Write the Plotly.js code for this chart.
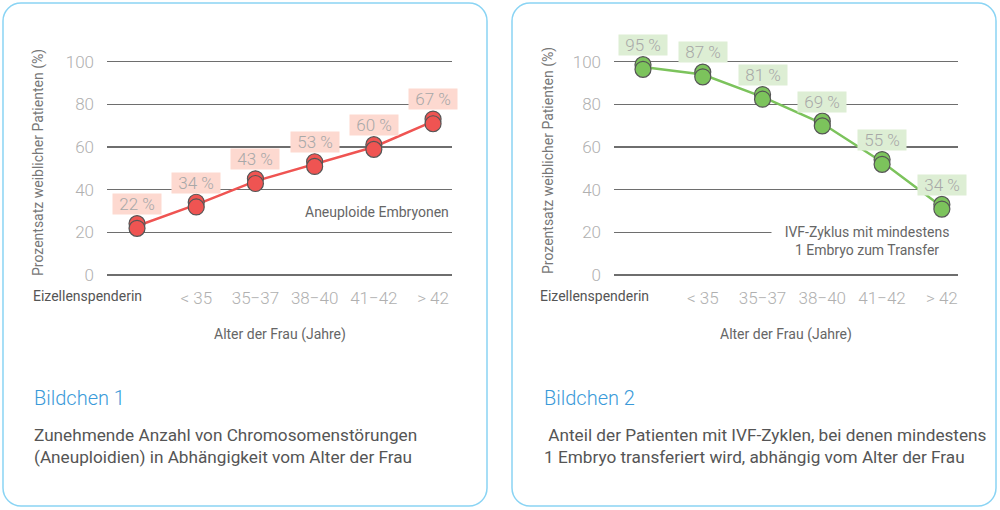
<!DOCTYPE html>
<html>
<head>
<meta charset="utf-8">
<script src="https://cdn.plot.ly/plotly-3.0.1.min.js"></script>
<style>html,body{margin:0;padding:0;background:#fff;}#chart{width:1000px;height:510px;}</style>
</head>
<body>
<div id="chart"></div>
<script>
// ---- data ----
const categories = ["Eizellenspenderin", "< 35", "35\u221237", "38\u221240", "41\u221242", "> 42"];
const aneuploidValues = [23, 33, 44, 52, 60, 72];
const aneuploidLabels = ["22 %", "34 %", "43 %", "53 %", "60 %", "67 %"];
const transferValues = [97.5, 94, 83.5, 71, 53, 32];
const transferLabels = ["95 %", "87 %", "81 %", "69 %", "55 %", "34 %"];
const yTicks = [0, 20, 40, 60, 80, 100];

// ---- helpers ----
const W = 1000, H = 510;
const px = x => x / W;
const py = y => 1 - y / H;
const FONT = "Roboto, 'Noto Sans', sans-serif";
const stackOff = 1.1;

function roundRect(x0, y0, x1, y1, r) {
  const k = 0.5523 * r;
  const X = v => px(v), Y = v => py(v);
  return `M ${X(x0 + r)},${Y(y0)} L ${X(x1 - r)},${Y(y0)} ` +
    `C ${X(x1 - r + k)},${Y(y0)} ${X(x1)},${Y(y0 + r - k)} ${X(x1)},${Y(y0 + r)} ` +
    `L ${X(x1)},${Y(y1 - r)} ` +
    `C ${X(x1)},${Y(y1 - r + k)} ${X(x1 - r + k)},${Y(y1)} ${X(x1 - r)},${Y(y1)} ` +
    `L ${X(x0 + r)},${Y(y1)} ` +
    `C ${X(x0 + r - k)},${Y(y1)} ${X(x0)},${Y(y1 - r + k)} ${X(x0)},${Y(y1 - r)} ` +
    `L ${X(x0)},${Y(y0 + r)} ` +
    `C ${X(x0)},${Y(y0 + r - k)} ${X(x0 + r - k)},${Y(y0)} ${X(x0 + r)},${Y(y0)} Z`;
}

function seriesTraces(xa, ya, vals, color) {
  return [
    {x: categories, y: vals, xaxis: xa, yaxis: ya, type: "scatter", mode: "lines",
     line: {color: color, width: 2.5}, hoverinfo: "skip", cliponaxis: false},
    {x: categories, y: vals.map(v => v + stackOff), xaxis: xa, yaxis: ya, type: "scatter", mode: "markers",
     marker: {size: 16, color: color, line: {color: "#555555", width: 1.2}}, hoverinfo: "skip", cliponaxis: false},
    {x: categories, y: vals.map(v => v - stackOff), xaxis: xa, yaxis: ya, type: "scatter", mode: "markers",
     marker: {size: 16, color: color, line: {color: "#555555", width: 1.2}}, hoverinfo: "skip", cliponaxis: false}
  ];
}

const traces = [
  ...seriesTraces("x", "y", aneuploidValues, "#ef5452"),
  ...seriesTraces("x2", "y2", transferValues, "#7cc35c")
];

function valueLabels(xref, yref, vals, labels, bg) {
  return vals.map((v, i) => ({
    x: categories[i], y: v, xref: xref, yref: yref, yshift: 22,
    xanchor: "center", yanchor: "middle",
    text: labels[i], showarrow: false, bgcolor: bg, width: 48, height: 20, borderpad: 0,
    font: {family: FONT, size: 17, color: "#a8a8a8", weight: 300}
  }));
}

function note(x, y, text, font, extra) {
  return Object.assign({x: px(x), y: py(y), xref: "paper", yref: "paper",
    xanchor: "center", yanchor: "middle", showarrow: false, text: text, font: font}, extra || {});
}

const yDomain = [py(285.7), py(51)];
const yAxisBase = {
  range: [-5, 105], domain: yDomain, tickmode: "array", tickvals: yTicks,
  showgrid: true, gridcolor: "#6e6e6e", gridwidth: 1.5, zeroline: false, showline: false,
  ticks: "", ticklabelstandoff: 12,
  tickfont: {family: FONT, size: 17, color: "#b0b0b0", weight: 300}, fixedrange: true
};
const xAxisBase = {
  type: "category", showgrid: false, zeroline: false, showline: false, ticks: "",
  tickmode: "array", tickvals: categories.slice(1), ticktext: categories.slice(1),
  tickfont: {family: FONT, size: 17, color: "#b0b0b0", weight: 300}, fixedrange: true
};

const titleFont = {family: FONT, size: 14, color: "#777777"};
const labelFont = {family: FONT, size: 14, color: "#666666"};
const capFont = {family: FONT, size: 20, color: "#3a9ad9", weight: 300};
const descFont = {family: FONT, size: 17.2, color: "#555555"};

const annotations = [
  ...valueLabels("x", "y", aneuploidValues, aneuploidLabels, "#fdd9d0"),
  ...valueLabels("x2", "y2", transferValues, transferLabels, "#ddeed4"),
  // first category labels (offset to the left)
  {x: categories[0], xref: "x", y: py(296), yref: "paper", xshift: -50, showarrow: false,
   xanchor: "center", yanchor: "middle",
   text: categories[0], font: {family: FONT, size: 14, color: "#555555"}},
  {x: categories[0], xref: "x2", y: py(296), yref: "paper", xshift: -48, showarrow: false,
   xanchor: "center", yanchor: "middle",
   text: categories[0], font: {family: FONT, size: 14, color: "#555555"}},
  // axis titles
  note(38, 163, "Prozentsatz weiblicher Patienten (%)", titleFont, {textangle: -90}),
  note(548, 161, "Prozentsatz weiblicher Patienten (%)", titleFont, {textangle: -90}),
  note(280, 334, "Alter der Frau (Jahre)", labelFont),
  note(786, 334, "Alter der Frau (Jahre)", labelFont),
  // series notes
  note(451, 212, "Aneuploide Embryonen", labelFont, {xanchor: "right"}),
  note(867, 241, "IVF-Zyklus mit mindestens<br>1 Embryo zum Transfer", labelFont,
       {bgcolor: "#ffffff", width: 188, height: 40, align: "center"}),
  // captions
  note(32, 398, "Bildchen 1", capFont, {xanchor: "left"}),
  note(542, 398, "Bildchen 2", capFont, {xanchor: "left"}),
  note(32, 446, "Zunehmende Anzahl von Chromosomenstörungen<br>(Aneuploidien) in Abhängigkeit vom Alter der Frau",
       descFont, {xanchor: "left", align: "left"}),
  note(542, 446, "\u00a0Anteil der Patienten mit IVF-Zyklen, bei denen mindestens<br>1 Embryo transferiert wird, abhängig vom Alter der Frau",
       descFont, {xanchor: "left", align: "left"})
];

const layout = {
  width: W, height: H, margin: {l: 0, r: 0, t: 0, b: 0},
  paper_bgcolor: "#ffffff", plot_bgcolor: "rgba(0,0,0,0)", showlegend: false,
  font: {family: FONT},
  xaxis: Object.assign({}, xAxisBase, {domain: [px(107), px(452)], range: [-0.507, 5.32], anchor: "y"}),
  yaxis: Object.assign({}, yAxisBase, {anchor: "x"}),
  xaxis2: Object.assign({}, xAxisBase, {domain: [px(614), px(958)], range: [-0.485, 5.27], anchor: "y2"}),
  yaxis2: Object.assign({}, yAxisBase, {anchor: "x2"}),
  shapes: [
    {type: "path", xref: "paper", yref: "paper", path: roundRect(3, 3, 487, 506, 18),
     line: {color: "#8ad4f4", width: 1.5}, layer: "below"},
    {type: "path", xref: "paper", yref: "paper", path: roundRect(512, 3, 996, 506, 18),
     line: {color: "#8ad4f4", width: 1.5}, layer: "below"}
  ],
  annotations: annotations
};

Plotly.newPlot("chart", traces, layout, {displayModeBar: false, staticPlot: true});
</script>
</body>
</html>
